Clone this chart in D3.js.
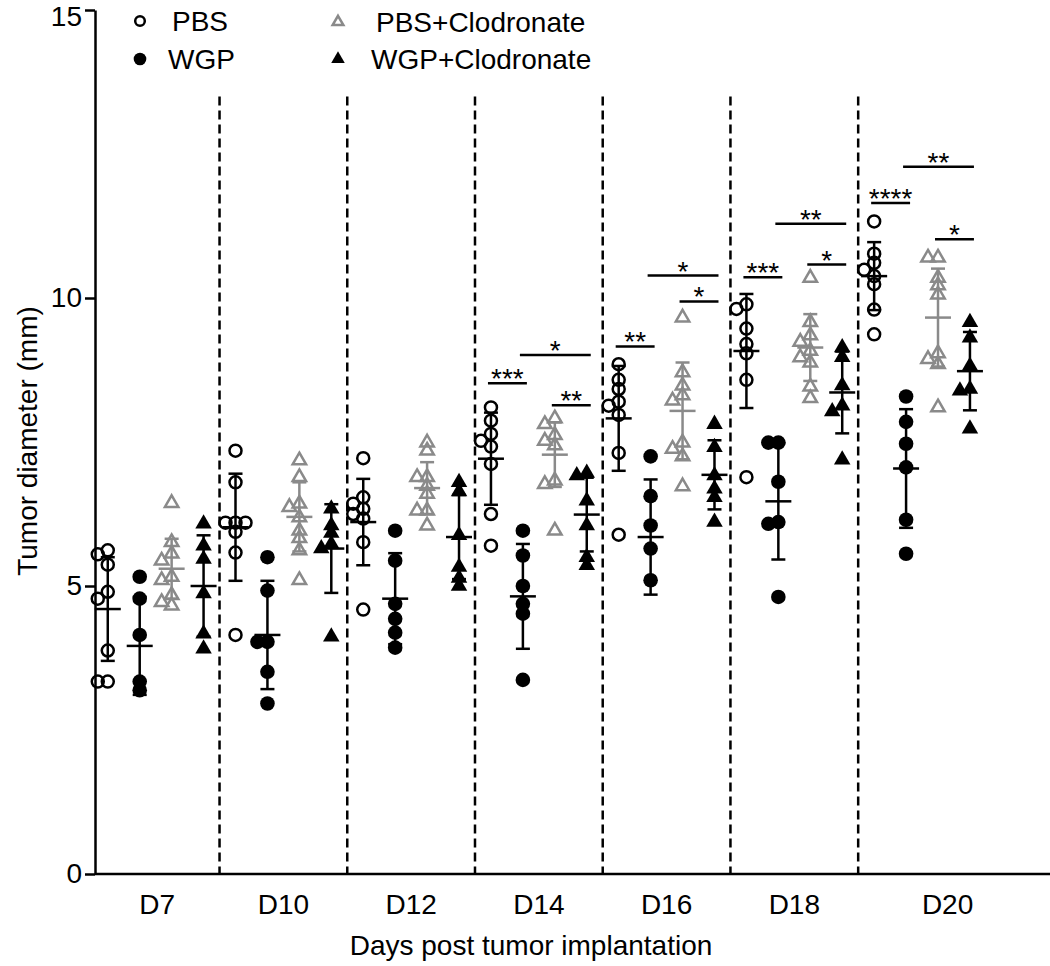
<!DOCTYPE html>
<html><head><meta charset="utf-8">
<script src="https://cdn.jsdelivr.net/npm/d3@7"></script>
<style>body{margin:0;background:#fff}svg{display:block}text{font-family:Arial,"Liberation Sans",sans-serif}</style>
</head><body><svg id="c" width="1050" height="966"></svg>
<script>
// ---------- data ----------
const days = ["D7","D10","D12","D14","D16","D18","D20"];
const groups = ["PBS","WGP","PBS+Clodronate","WGP+Clodronate"];
const yTicks = [0,5,10,15];

const pbsValues = [
  [5.62,5.55,5.37,4.90,4.78,3.88,3.34,3.34],
  [7.35,6.80,6.10,6.10,6.10,5.94,5.58,4.15],
  [7.22,6.54,6.43,6.34,6.25,6.17,5.76,4.59],
  [8.10,7.87,7.64,7.52,7.42,7.12,6.25,5.70],
  [8.85,8.58,8.42,8.20,8.13,7.97,7.31,5.89],
  [9.89,9.81,9.47,9.20,9.04,8.58,6.89],
  [11.33,10.77,10.61,10.49,10.38,10.24,9.80,9.37]
];
const wgpValues = [
  [5.16,4.78,4.15,3.34,3.19],
  [5.50,4.92,4.03,4.03,3.51,2.96],
  [5.96,5.44,4.69,4.43,4.19,3.93],
  [5.96,5.53,5.00,4.69,4.52,3.37],
  [7.25,6.56,6.05,5.65,5.10],
  [7.49,7.49,6.81,6.11,6.08,4.81],
  [8.29,7.85,7.47,7.06,6.15,5.56]
];
const pbsClodValues = [
  [6.44,5.76,5.56,5.44,5.16,5.10,4.84,4.72,4.66],
  [7.18,6.89,6.43,6.37,6.19,5.96,5.83,5.62,5.10],
  [7.49,7.35,6.89,6.89,6.74,6.60,6.31,6.31,6.05],
  [7.91,7.81,7.62,7.52,7.44,6.83,6.77,5.96],
  [9.66,8.71,8.48,8.31,8.22,7.49,7.38,7.25,6.73],
  [10.35,9.58,9.35,9.24,9.08,8.97,8.88,8.46,8.26],
  [10.70,10.70,10.35,10.22,10.06,9.04,8.94,8.85,8.10]
];
const wgpClodValues = [
  [6.08,5.70,5.47,4.87,4.17,3.91],
  [6.34,6.05,5.92,5.73,5.65,4.12],
  [6.80,6.64,5.88,5.33,5.14,5.00],
  [6.96,6.92,6.48,6.05,5.50,5.36],
  [7.81,7.41,6.92,6.69,6.54,6.11],
  [9.14,8.97,8.48,8.13,8.03,7.19],
  [9.58,9.31,8.82,8.42,8.39,7.73]
];

const pbsMean  = [4.60,6.02,6.11,7.21,7.91,9.08,10.38];
const pbsSD    = [0.90,0.93,0.75,0.80,0.91,0.99,0.59];
const wgpMean  = [3.96,4.15,4.78,4.82,5.85,6.47,7.04];
const wgpSD    = [0.85,0.94,0.79,0.91,1.00,1.01,1.03];
const pbsClodMean = [5.30,6.20,6.70,7.28,8.04,9.14,9.66];
const pbsClodSD   = [0.52,0.60,0.45,0.56,0.84,0.58,0.85];
const wgpClodMean = [5.00,5.65,5.85,6.24,6.93,8.36,8.73];
const wgpClodSD   = [0.88,0.77,0.73,0.64,0.60,0.71,0.68];

// significance brackets: day index, from group, to group, level (mm), label
const sigBrackets = [
  {day:3, from:0, to:1, level:8.52,  label:"***"},
  {day:3, from:1, to:3, level:9.01,  label:"*"},
  {day:3, from:2, to:3, level:8.14,  label:"**"},
  {day:4, from:0, to:1, level:9.16,  label:"**"},
  {day:4, from:1, to:3, level:10.39, label:"*"},
  {day:4, from:2, to:3, level:9.94,  label:"*"},
  {day:5, from:0, to:1, level:10.36, label:"***"},
  {day:5, from:1, to:3, level:11.29, label:"**"},
  {day:5, from:2, to:3, level:10.58, label:"*"},
  {day:6, from:0, to:1, level:11.65, label:"****"},
  {day:6, from:1, to:3, level:12.28, label:"**"},
  {day:6, from:2, to:3, level:11.02, label:"*"}
];

// ---------- drawing ----------
const W = 1050;
const GRAY = "#8a8a8a";
const FONT = 'Arial, "Liberation Sans", sans-serif';
const svg = d3.select("#c");
const x = d3.scaleLinear().domain([-0.4, 29.1]).range([95, 1037]);
const y = d3.scaleLinear().domain([0, 15]).range([874, 10]);
const col = (d, g) => d * 4 + g;

const series = [
  {vals: pbsValues, mean: pbsMean, sd: pbsSD, color: "#000"},
  {vals: wgpValues, mean: wgpMean, sd: wgpSD, color: "#000"},
  {vals: pbsClodValues, mean: pbsClodMean, sd: pbsClodSD, color: GRAY},
  {vals: wgpClodValues, mean: wgpClodMean, sd: wgpClodSD, color: "#000"}
];

// dashed day separators
svg.append("g").selectAll("line").data(d3.range(1, days.length)).join("line")
  .attr("x1", d => x(4 * d - 0.5)).attr("x2", d => x(4 * d - 0.5))
  .attr("y1", y(13.5)).attr("y2", y(0))
  .attr("stroke", "#000").attr("stroke-width", 2.5).attr("stroke-dasharray", "9,5");

// y axis
const gy = svg.append("g").attr("transform", `translate(${x.range()[0]},0)`)
  .call(d3.axisLeft(y).tickValues(yTicks).tickSize(10).tickPadding(3).tickSizeOuter(0));
gy.select(".domain").attr("stroke-width", 2.5);
gy.selectAll(".tick line").attr("stroke-width", 2.5);
gy.selectAll(".tick text").attr("font-size", 28).attr("font-family", FONT).attr("fill", "#000")
  .attr("dy", d => d === 15 ? "0.56em" : "0.32em");

// x axis line
svg.append("line").attr("x1", x.range()[0]).attr("x2", W).attr("y1", y(0)).attr("y2", y(0))
  .attr("stroke", "#000").attr("stroke-width", 2.5);

// day labels centred in each segment
const segStart = d => d === 0 ? x.domain()[0] : 4 * d - 0.5;
const segEnd = d => d === days.length - 1 ? x.domain()[1] : 4 * d + 3.5;
svg.append("g").selectAll("text").data(days).join("text")
  .attr("x", (t, d) => (x(segStart(d)) + x(segEnd(d))) / 2)
  .attr("y", 914).attr("text-anchor", "middle").attr("font-size", 28).text(t => t);

// axis titles
svg.append("text").attr("x", 531).attr("y", 955).attr("text-anchor", "middle")
  .attr("font-size", 28).text("Days post tumor implantation");
svg.append("text").attr("transform", "translate(37,441) rotate(-90)").attr("text-anchor", "middle")
  .attr("font-size", 28).text("Tumor diameter (mm)");

// dodge overlapping points horizontally
function dodge(vals, step, minDist) {
  const placed = [];
  [...vals].sort((a, b) => b - a).forEach(v => {
    const py = y(v);
    for (const k of [0, -1, 1, -2, 2, -3, 3]) {
      const ox = k * step;
      if (placed.every(p => Math.hypot(p.ox - ox, p.py - py) >= minDist)) {
        placed.push({v, ox, py}); break;
      }
    }
  });
  return placed;
}

const triOpen = d3.symbol(d3.symbolTriangle, 78)();
const triFill = d3.symbol(d3.symbolTriangle, 118)();

function drawMarker(g, s, cx, cy, small) {
  if (s === 0) g.append("circle").attr("cx", cx).attr("cy", cy).attr("r", small ? 4.8 : 6)
      .attr("fill", "none").attr("stroke", "#000").attr("stroke-width", 2.5);
  else if (s === 1) g.append("circle").attr("cx", cx).attr("cy", cy).attr("r", small ? 6.3 : 7.3).attr("fill", "#000");
  else if (s === 2) g.append("path").attr("d", small ? d3.symbol(d3.symbolTriangle, 50)() : triOpen)
      .attr("transform", `translate(${cx},${cy})`).attr("fill", "none")
      .attr("stroke", GRAY).attr("stroke-width", 2.5).attr("stroke-linejoin", "miter");
  else g.append("path").attr("d", small ? d3.symbol(d3.symbolTriangle, 80)() : triFill)
      .attr("transform", `translate(${cx},${cy})`).attr("fill", "#000");
}

const gPts = svg.append("g");
series.forEach((ser, s) => {
  ser.vals.forEach((vals, d) => {
    const cx = x(col(d, s));
    dodge(vals, 10, 7).forEach(p => drawMarker(gPts, s, cx + p.ox, p.py, false));
  });
});

// mean ± SD bars
const gBars = svg.append("g").attr("stroke-width", 2.5);
series.forEach((ser, s) => {
  ser.mean.forEach((m, d) => {
    const cx = x(col(d, s)), top = y(m + ser.sd[d]), bot = y(m - ser.sd[d]);
    const g = gBars.append("g").attr("stroke", ser.color);
    g.append("line").attr("x1", cx).attr("x2", cx).attr("y1", top).attr("y2", bot);
    g.append("line").attr("x1", cx - 7).attr("x2", cx + 7).attr("y1", top).attr("y2", top);
    g.append("line").attr("x1", cx - 7).attr("x2", cx + 7).attr("y1", bot).attr("y2", bot);
    g.append("line").attr("x1", cx - 13).attr("x2", cx + 13).attr("y1", y(m)).attr("y2", y(m));
  });
});

// significance brackets
const gSig = svg.append("g");
sigBrackets.forEach(b => {
  const x1 = x(col(b.day, b.from)) - 3, x2 = x(col(b.day, b.to)) + 4, yy = y(b.level);
  gSig.append("line").attr("x1", x1).attr("x2", x2).attr("y1", yy).attr("y2", yy)
    .attr("stroke", "#000").attr("stroke-width", 2.5);
  gSig.append("text").attr("x", (x1 + x2) / 2).attr("y", yy + 5).attr("text-anchor", "middle")
    .attr("font-size", 28).text(b.label);
});

// legend
const gLeg = svg.append("g");
const legPos = [[140, 21, 172], [140, 59, 168], [338, 22, 376], [338, 59, 371]];
groups.forEach((name, s) => {
  const [mx, my, tx] = legPos[s];
  drawMarker(gLeg, s, mx, my, true);
  gLeg.append("text").attr("x", tx).attr("y", my + 10).attr("font-size", 28).text(name);
});
</script></body></html>
